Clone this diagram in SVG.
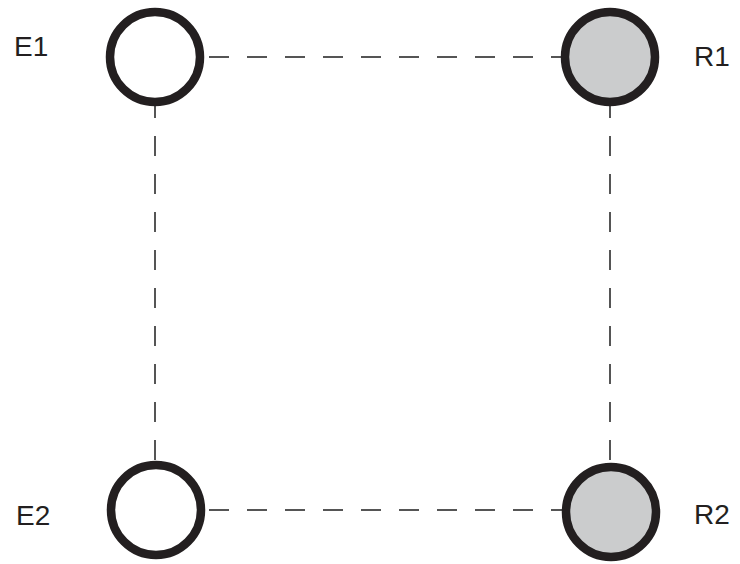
<svg xmlns="http://www.w3.org/2000/svg" width="740" height="564" viewBox="0 0 740 564">
<style>
.edge{stroke:#555;stroke-width:2;stroke-dasharray:20 18;fill:none}
.e{fill:#fff;stroke:#231f20;stroke-width:8.5}
.r{fill:#cbcccd;stroke:#231f20;stroke-width:8.5}
.lbl{font-family:"Liberation Sans","Open Sans",Arial,sans-serif;font-size:28px;fill:#231f20}
</style>
<rect width="740" height="564" fill="#fff"/>
<g id="connectors">
<line class="edge" x1="209" y1="57" x2="562" y2="57"/>
<line class="edge" x1="155" y1="98" x2="155" y2="466"/>
<line class="edge" x1="610" y1="98" x2="610" y2="466"/>
<line class="edge" x1="209" y1="510" x2="562" y2="510"/>
</g>
<g id="E1"><circle class="e" cx="155" cy="57" r="45"/><text class="lbl" x="14" y="56">E1</text></g>
<g id="R1"><circle class="r" cx="610" cy="57" r="45"/><text class="lbl" x="694" y="66">R1</text></g>
<g id="E2"><circle class="e" cx="156" cy="510" r="45"/><text class="lbl" x="16" y="525">E2</text></g>
<g id="R2"><circle class="r" cx="611" cy="512" r="45"/><text class="lbl" x="694" y="524">R2</text></g>
</svg>
